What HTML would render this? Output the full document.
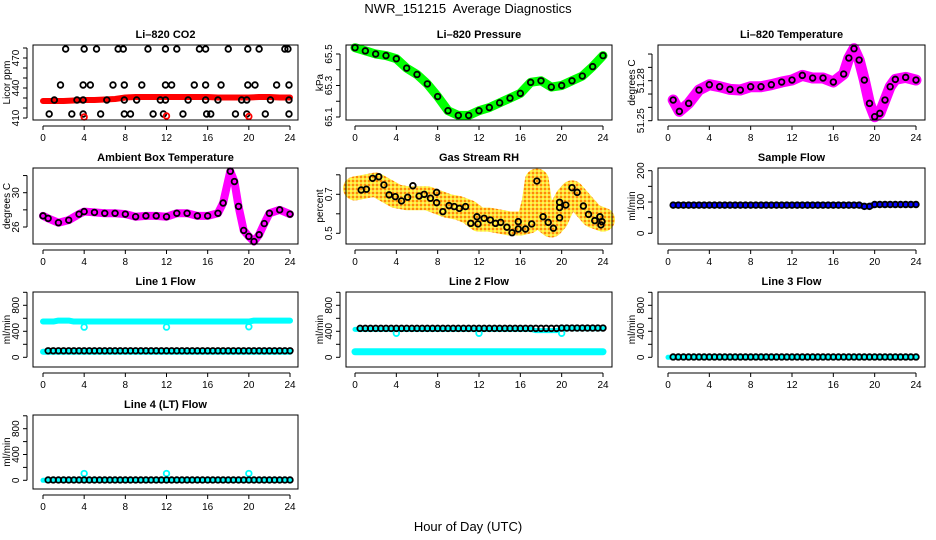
<!DOCTYPE html>
<html><head><meta charset="utf-8"><style>
body{margin:0;background:#fff}
svg{display:block;font-family:"Liberation Sans",sans-serif}
</style></head><body>
<svg id="chart" width="936" height="540" viewBox="0 0 936 540">
<defs>
<pattern id="speckle" width="4" height="4" patternUnits="userSpaceOnUse">
<rect width="4" height="4" fill="#ffd24a"/>
<rect x="0" y="0" width="2" height="2" fill="#ff8c00"/>
<rect x="2" y="2" width="2" height="2" fill="#ffff40"/>
</pattern>
</defs>
<text x="468" y="13" text-anchor="middle" font-size="13" style="white-space:pre">NWR_151215  Average Diagnostics</text>
<text x="468" y="531" text-anchor="middle" font-size="13">Hour of Day (UTC)</text>
</svg>
<script>
const xTicks=[0,4,8,12,16,20,24];
const H48=[0.5,1,1.5,2,2.5,3,3.5,4,4.5,5,5.5,6,6.5,7,7.5,8,8.5,9,9.5,10,10.5,11,11.5,12,12.5,13,13.5,14,14.5,15,15.5,16,16.5,17,17.5,18,18.5,19,19.5,20,20.5,21,21.5,22,22.5,23,23.5,24];
const H25=[0,1,2,3,4,5,6,7,8,9,10,11,12,13,14,15,16,17,18,19,20,21,22,23,24];
// CO2
const co2Band=[427,427,427,427.5,428,428,428.5,429,430.5,431,431,431,431,431,431,431,431,430.5,430.5,430.5,430.5,431,431,430.5,430.5];
const co2PtsH=[2.2,4,5.2,7.3,7.8,10.2,11.9,13,15.2,15.8,18,19.9,21,23.5,23.8, 1.7,3.9,4.6,6.8,7.9,9.6,11.9,12.5,14.7,15.8,17.3,19.9,20.6,22.7,23.9, 1.1,3.3,3.9,6.2,7.9,9.1,11.4,11.9,14.1,15.8,17,19.3,19.8,22.1,23.9, 0.6,2.8,3.9,5.6,7.9,8.5,10.7,11.7,13.6,15.9,16.3,18.7,19.8,21.6,23.9];
const co2PtsV=[479,479,479,479,479,479,479,479,479,479,479,479,479,479,479, 443,443,443,443,443,443,443,443,443,443,443,443,443,443,443, 428,428,428,428,428,428,428,428,428,428,428,428,428,428,428, 414,414,414,414,414,414,414,414,414,414,414,414,414,414,414];
const co2OutH=[4,12,20];
const co2OutV=[411,412,411.5];
// Pressure
const presV=[65.54,65.52,65.50,65.49,65.47,65.41,65.37,65.31,65.23,65.14,65.11,65.11,65.14,65.16,65.19,65.22,65.25,65.32,65.33,65.29,65.30,65.33,65.36,65.42,65.49];
// Li-820 temperature
const ltH=[0.5,1.1,2,3,4,5,6,7,8,9,10,11,12,13,14,15,16,17,17.5,18,18.5,19,19.5,20,20.5,21,21.5,22,23,24];
const ltV=[51.2655,51.257,51.263,51.273,51.277,51.2755,51.2735,51.273,51.2755,51.2755,51.277,51.279,51.2805,51.284,51.282,51.282,51.279,51.285,51.297,51.304,51.2955,51.2805,51.263,51.253,51.2555,51.2655,51.2755,51.281,51.2825,51.2805];
// Ambient box temperature
const abH=[0,0.5,1.5,2.5,3.5,4,5,6,7,8,9,10,11,12,13,14,15,16,17,17.5,18.2,18.6,19,19.5,20,20.5,21,21.5,22,23,24];
const abV=[27.3,27.0,26.5,26.8,27.5,27.8,27.7,27.6,27.6,27.5,27.2,27.3,27.3,27.2,27.6,27.6,27.3,27.3,27.6,28.8,32.5,31.3,28.4,25.6,24.9,24.3,25.1,26.4,27.6,28.0,27.5];
// Gas stream RH
const rhBandH=[0,1,2,3,4,5,6,7,8,9,10,11,12,13,14,15,16,16.8,17.3,17.6,18,18.5,19,19.5,20,20.5,21,22,23,24];
const rhBandV=[0.73,0.74,0.75,0.72,0.69,0.68,0.68,0.68,0.66,0.64,0.63,0.61,0.57,0.57,0.56,0.55,0.55,0.56,0.66,0.77,0.62,0.56,0.54,0.57,0.63,0.68,0.71,0.65,0.59,0.57];
const rhPtsH=[0.6,1.1,1.7,2.3,2.8,3.3,3.9,4.5,5.1,5.6,6.2,6.7,7.3,7.9,7.9,8.5,9.1,9.6,10.1,10.7,11.2,11.8,11.9,12.5,13.1,13.6,14.1,14.7,15.2,15.8,15.8,16.5,17.1,17.6,18.2,18.7,19.2,19.8,19.8,19.8,20.4,21.0,21.5,22.1,22.6,23.2,23.7,23.8,23.9];
const rhPtsV=[0.722,0.726,0.782,0.79,0.748,0.697,0.688,0.666,0.685,0.744,0.691,0.70,0.68,0.657,0.71,0.611,0.642,0.637,0.628,0.637,0.551,0.585,0.548,0.577,0.568,0.551,0.556,0.531,0.503,0.522,0.56,0.522,0.548,0.768,0.585,0.556,0.526,0.580,0.632,0.659,0.645,0.734,0.71,0.64,0.597,0.565,0.585,0.543,0.56];
// Sample flow
const sampleV=[90,90,90,90,90,90,90,90,90,90,90,90,90,90,90,90,90,90,90,90,90,90,90,90,90,90,90,90,90,90,90,90,90,90,90,90,90,86,86,92,92,92,92,92,92,92,92,92];
// Line 1
const l1Black=[100,100,100,100,100,100,100,100,100,100,100,100,100,100,100,100,100,100,100,100,100,100,100,100,100,100,100,100,100,100,100,100,100,100,100,100,100,100,100,100,100,100,100,100,100,100,100,100];
const l1CyanHi=[550,550,565,565,565,550,550,550,550,550,550,550,550,550,550,550,550,550,550,550,550,550,550,550,550,550,550,550,550,550,550,550,550,550,550,550,550,550,550,550,565,565,565,565,565,565,565,565];
const l1CyanLo=[85,85,85,85,85,85,85,85,85,85,85,85,85,85,85,85,85,85,85,85,85,85,85,85,85,85,85,85,85,85,85,85,85,85,85,85,85,85,85,85,85,85,85,85,85,85,85,85];
const outH=[4,12,20];
const l1OutV=[465,465,470];
// Line 2
const l2Black=[445,445,445,445,445,445,445,445,445,445,445,445,445,445,445,445,445,445,445,445,445,445,445,445,445,445,445,445,445,445,445,445,445,445,445,445,445,445,445,450,450,450,450,450,450,450,450,450];
const l2CyanHi=[430,430,430,430,430,430,430,430,430,430,430,430,430,430,430,430,430,430,430,430,430,430,430,430,430,430,430,430,430,430,430,430,430,430,410,410,410,410,410,440,440,440,440,440,440,440,440,440];
const l2CyanLo=[85,85,85,85,85,85,85,85,85,85,85,85,85,85,85,85,85,85,85,85,85,85,85,85,85,85,85,85,85,85,85,85,85,85,85,85,85,85,85,85,85,85,85,85,85,85,85,85];
const l2OutV=[370,370,370];
// Line 3 / Line 4
const l3Black=[5,5,5,5,5,5,5,5,5,5,5,5,5,5,5,5,5,5,5,5,5,5,5,5,5,5,5,5,5,5,5,5,5,5,5,5,5,5,5,5,5,5,5,5,5,5,5,5];
const l3Cyan=[0,0,0,0,0,0,0,0,0,0,0,0,0,0,0,0,0,0,0,0,0,0,0,0,0,0,0,0,0,0,0,0,0,0,0,0,0,0,0,0,0,0,0,0,0,0,0,0];
const l4Black=[5,5,5,5,5,5,5,5,5,5,5,5,5,5,5,5,5,5,5,5,5,5,5,5,5,5,5,5,5,5,5,5,5,5,5,5,5,5,5,5,5,5,5,5,5,5,5,5];
const l4Cyan=[0,0,0,0,0,0,0,0,0,0,0,0,0,0,0,0,0,0,0,0,0,0,0,0,0,0,0,0,0,0,0,0,0,0,0,0,0,0,0,0,0,0,0,0,0,0,0,0];
const l4OutV=[105,105,105];

const NS='http://www.w3.org/2000/svg';
const svg=document.getElementById('chart');
function mk(tag,attrs,parent){const e=document.createElementNS(NS,tag);for(const k in attrs)e.setAttribute(k,attrs[k]);(parent||svg).appendChild(e);return e;}
const cols=[{l:33,r:298,x0:43,x24:290},{l:346,r:612,x0:355,x24:603},{l:658,r:925,x0:668,x24:916}];
const rows=[{t:45,b:120},{t:168,b:244},{t:292,b:367},{t:415,b:489}];

function panel(name,ci,ri,title,ylab,v1,p1,v2,p2,ticks,labels,draw){
  const c=cols[ci],r=rows[ri];
  const g=mk('g',{});
  
  
  const X=h=>c.x0+(c.x24-c.x0)*h/24;
  const Y=v=>p1+(v-v1)*(p2-p1)/(v2-v1);
  const t=mk('text',{x:(c.l+c.r)/2,y:r.t-7,'text-anchor':'middle','font-size':11,'font-weight':'bold'},g);
  t.textContent=title;
  
  
  const plot=mk('g',{},g);
  
  
  draw(plot,X,Y);
  const box=mk('rect',{x:c.l,y:r.t,width:c.r-c.l,height:r.b-r.t,fill:'none',stroke:'#000','stroke-width':1},g);
  
  
  const xa=mk('g',{},g);
  
  
  mk('line',{x1:X(0),x2:X(24),y1:r.b+6,y2:r.b+6,stroke:'#000'},xa);
  xTicks.forEach(h=>{
    mk('line',{x1:X(h),x2:X(h),y1:r.b+6,y2:r.b+10,stroke:'#000'},xa);
    const tx=mk('text',{x:X(h),y:r.b+21,'text-anchor':'middle','font-size':10},xa);
    tx.textContent=h;
  });
  const ya=mk('g',{},g);
  
  
  const ax=c.l-6;
  mk('line',{x1:ax,x2:ax,y1:Y(ticks[0]),y2:Y(ticks[ticks.length-1]),stroke:'#000'},ya);
  ticks.forEach(v=>{mk('line',{x1:ax-4,x2:ax,y1:Y(v),y2:Y(v),stroke:'#000'},ya);});
  labels.forEach(v=>{
    const tx=mk('text',{x:0,y:0,'text-anchor':'middle','font-size':10,transform:`translate(${ax-8},${Y(v)}) rotate(-90)`},ya);
    tx.textContent=v;
  });
  const yl=mk('text',{x:0,y:0,'text-anchor':'middle','font-size':10,transform:`translate(${c.l-23},${(r.t+r.b)/2}) rotate(-90)`},g);
  yl.textContent=ylab;
  
  
}
function band(g,X,Y,hs,vs,color,w,nm){
  const pl=mk('polyline',{points:hs.map((h,i)=>X(h)+','+Y(vs[i])).join(' '),fill:'none',stroke:color,'stroke-width':w,'stroke-linecap':'round','stroke-linejoin':'round'},g);
  
  
}
function pts(g,X,Y,hs,vs,color,nm,rr){
  hs.forEach((h,i)=>{
    const ci=mk('circle',{cx:X(h),cy:Y(vs[i]),r:rr||2.8,fill:'none',stroke:color,'stroke-width':1.8},g);
    
    
  });
}
panel('co2',0,0,'Li–820 CO2','Licor ppm',410,118,470,58,[410,420,430,440,450,460,470,480],[410,440,470],(g,X,Y)=>{
  band(g,X,Y,H25,co2Band,'#ff0000',6,'co2-band');
  pts(g,X,Y,co2PtsH,co2PtsV,'#000','co2-point');
  pts(g,X,Y,co2OutH,co2OutV,'#ff0000','co2-outlier');
});
panel('pressure',1,0,'Li–820 Pressure','kPa',65.1,117,65.5,54,[65.1,65.2,65.3,65.4,65.5],[65.1,65.3,65.5],(g,X,Y)=>{
  band(g,X,Y,H25,presV,'#00ff00',9,'pressure-band');
  pts(g,X,Y,H25,presV,'#000','pressure-point');
});
panel('li-temp',2,0,'Li–820 Temperature','degrees C',51.25,120.7,51.28,80.7,[51.25,51.26,51.27,51.28,51.29,51.30],[51.25,51.28],(g,X,Y)=>{
  band(g,X,Y,ltH,ltV,'#ff00ff',11,'li-temp-band');
  pts(g,X,Y,ltH,ltV,'#000','li-temp-point');
});
panel('ambient',0,1,'Ambient Box Temperature','degrees C',26,227,30,192.7,[26,28,30,32],[26,30],(g,X,Y)=>{
  band(g,X,Y,abH,abV,'#ff00ff',8,'ambient-band');
  pts(g,X,Y,abH,abV,'#000','ambient-point');
});
panel('rh',1,1,'Gas Stream RH','percent',0.5,233.3,0.7,194.3,[0.5,0.6,0.7,0.8],[0.5,0.7],(g,X,Y)=>{
  band(g,X,Y,rhBandH,rhBandV,'url(#speckle)',24,'rh-band');
  pts(g,X,Y,rhPtsH,rhPtsV,'#000','rh-point');
});
panel('sample-flow',2,1,'Sample Flow','ml/min',0,233.3,200,170.7,[0,50,100,150,200],[0,100,200],(g,X,Y)=>{
  band(g,X,Y,H48,sampleV,'#0000ff',6,'sample-band');
  pts(g,X,Y,H48,sampleV,'#000','sample-point');
});
panel('line1',0,2,'Line 1 Flow','ml/min',0,357.3,800,305.3,[0,200,400,600,800,1000],[0,400,800],(g,X,Y)=>{
  band(g,X,Y,[0].concat(H48),[550].concat(l1CyanHi),'#00ffff',6,'line1-cyan-high');
  band(g,X,Y,[0].concat(H48),[85].concat(l1CyanLo),'#00ffff',6,'line1-cyan-low');
  pts(g,X,Y,outH,l1OutV,'#00ffff','line1-outlier');
  pts(g,X,Y,H48,l1Black,'#000','line1-point');
});
panel('line2',1,2,'Line 2 Flow','ml/min',0,357.3,800,305.3,[0,200,400,600,800,1000],[0,400,800],(g,X,Y)=>{
  band(g,X,Y,[0].concat(H48),[430].concat(l2CyanHi),'#00ffff',5,'line2-cyan-high');
  band(g,X,Y,[0].concat(H48),[85].concat(l2CyanLo),'#00ffff',7,'line2-cyan-low');
  pts(g,X,Y,outH,l2OutV,'#00ffff','line2-outlier');
  pts(g,X,Y,H48,l2Black,'#000','line2-point');
});
panel('line3',2,2,'Line 3 Flow','ml/min',0,357.3,800,305.3,[0,200,400,600,800,1000],[0,400,800],(g,X,Y)=>{
  band(g,X,Y,[0].concat(H48),[0].concat(l3Cyan),'#00ffff',5,'line3-cyan');
  pts(g,X,Y,H48,l3Black,'#000','line3-point');
});
panel('line4',0,3,'Line 4 (LT) Flow','ml/min',0,480.3,800,428.7,[0,200,400,600,800,1000],[0,400,800],(g,X,Y)=>{
  band(g,X,Y,[0].concat(H48),[0].concat(l4Cyan),'#00ffff',5,'line4-cyan');
  pts(g,X,Y,outH,l4OutV,'#00ffff','line4-outlier');
  pts(g,X,Y,H48,l4Black,'#000','line4-point');
});
</script>
</body></html>
